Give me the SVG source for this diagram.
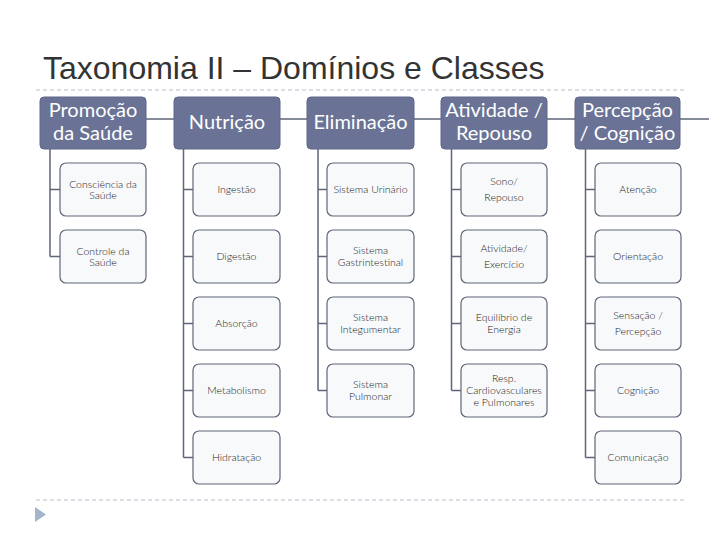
<svg xmlns="http://www.w3.org/2000/svg" width="720" height="540" viewBox="0 0 720 540">
<defs>
<style>
.title{font-family:"Liberation Sans",Arial,sans-serif;font-size:32px;fill:#333333}
.dash{stroke:#b4bfcc;stroke-width:1;stroke-dasharray:4 3;fill:none}
.hdr rect{fill:#6a7396;stroke:#5e6788;stroke-width:1}
.hdr text{font-family:Lato,"Open Sans",sans-serif;font-size:20px;fill:#ffffff;text-anchor:middle}
.cls rect{fill:#f8f9fb;stroke:#5f6678;stroke-width:1.2}
.cls text{font-family:Lato,"Open Sans",sans-serif;font-size:10.5px;font-weight:300;fill:#1a1a1a;text-anchor:middle}
.conn path{stroke:#5f6678;stroke-width:1.5;fill:none}
</style>
</defs>
<rect width="720" height="540" fill="#ffffff"/>
<text class="title" x="43" y="79">Taxonomia II – Domínios e Classes</text>
<line class="dash" x1="36" y1="90" x2="686" y2="90"/>
<line class="dash" x1="36" y1="500" x2="686" y2="500"/>
<polygon points="35,507 46,514.5 35,522" fill="#a3b5cc"/>

<g id="connectors" class="conn">
<path d="M146 119H174M280 119H307M414 119H441M547 119H575M680 119H709"/>
<path d="M50 149V256.5M50 189.5H60M50 256.5H60"/>
<path d="M183.5 149V457.5M183.5 189.5H193M183.5 256.5H193M183.5 323.5H193M183.5 390.5H193M183.5 457.5H193"/>
<path d="M318 149V390.5M318 189.5H327M318 256.5H327M318 323.5H327M318 390.5H327"/>
<path d="M451.5 149V390.5M451.5 189.5H461M451.5 256.5H461M451.5 323.5H461M451.5 390.5H461"/>
<path d="M585.5 149V457.5M585.5 189.5H595M585.5 256.5H595M585.5 323.5H595M585.5 390.5H595M585.5 457.5H595"/>
</g>

<g id="h-promocao" class="hdr"><rect x="40" y="97" width="106" height="52" rx="4"/><text x="93" y="117">Promoção</text><text x="93" y="140">da Saúde</text></g>
<g id="h-nutricao" class="hdr"><rect x="174" y="97" width="106" height="52" rx="4"/><text x="227" y="129">Nutrição</text></g>
<g id="h-eliminacao" class="hdr"><rect x="307" y="97" width="107" height="52" rx="4"/><text x="360.5" y="129">Eliminação</text></g>
<g id="h-atividade" class="hdr"><rect x="441" y="97" width="106" height="52" rx="4"/><text x="494" y="117">Atividade /</text><text x="494" y="140">Repouso</text></g>
<g id="h-percepcao" class="hdr"><rect x="575" y="97" width="105" height="52" rx="4"/><text x="627.5" y="117">Percepção</text><text x="627.5" y="140">/ Cognição</text></g>

<g id="c-consciencia" class="cls"><rect x="60" y="163" width="86" height="53" rx="6"/><text x="103" y="188">Consciência da</text><text x="103" y="199">Saúde</text></g>
<g id="c-controle" class="cls"><rect x="60" y="230" width="86" height="53" rx="6"/><text x="103" y="255">Controle da</text><text x="103" y="266">Saúde</text></g>

<g id="c-ingestao" class="cls"><rect x="193" y="163" width="87" height="53" rx="6"/><text x="236.5" y="193">Ingestão</text></g>
<g id="c-digestao" class="cls"><rect x="193" y="230" width="87" height="53" rx="6"/><text x="236.5" y="260">Digestão</text></g>
<g id="c-absorcao" class="cls"><rect x="193" y="297" width="87" height="53" rx="6"/><text x="236.5" y="327">Absorção</text></g>
<g id="c-metabolismo" class="cls"><rect x="193" y="364" width="87" height="53" rx="6"/><text x="236.5" y="394">Metabolismo</text></g>
<g id="c-hidratacao" class="cls"><rect x="193" y="431" width="87" height="53" rx="6"/><text x="236.5" y="461">Hidratação</text></g>

<g id="c-urinario" class="cls"><rect x="327" y="163" width="87" height="53" rx="6"/><text x="370.5" y="193">Sistema Urinário</text></g>
<g id="c-gastrintestinal" class="cls"><rect x="327" y="230" width="87" height="53" rx="6"/><text x="370.5" y="254">Sistema</text><text x="370.5" y="266">Gastrintestinal</text></g>
<g id="c-integumentar" class="cls"><rect x="327" y="297" width="87" height="53" rx="6"/><text x="370.5" y="321">Sistema</text><text x="370.5" y="333">Integumentar</text></g>
<g id="c-pulmonar" class="cls"><rect x="327" y="364" width="87" height="53" rx="6"/><text x="370.5" y="388">Sistema</text><text x="370.5" y="400">Pulmonar</text></g>

<g id="c-sono" class="cls"><rect x="461" y="163" width="86" height="53" rx="6"/><text x="504" y="185">Sono/</text><text x="504" y="201">Repouso</text></g>
<g id="c-atividade" class="cls"><rect x="461" y="230" width="86" height="53" rx="6"/><text x="504" y="252">Atividade/</text><text x="504" y="268">Exercício</text></g>
<g id="c-equilibrio" class="cls"><rect x="461" y="297" width="86" height="53" rx="6"/><text x="504" y="321">Equilíbrio de</text><text x="504" y="333">Energia</text></g>
<g id="c-resp" class="cls"><rect x="461" y="364" width="86" height="53" rx="6"/><text x="504" y="382">Resp.</text><text x="504" y="394">Cardiovasculares</text><text x="504" y="406">e Pulmonares</text></g>

<g id="c-atencao" class="cls"><rect x="595" y="163" width="86" height="53" rx="6"/><text x="638" y="193">Atenção</text></g>
<g id="c-orientacao" class="cls"><rect x="595" y="230" width="86" height="53" rx="6"/><text x="638" y="260">Orientação</text></g>
<g id="c-sensacao" class="cls"><rect x="595" y="297" width="86" height="53" rx="6"/><text x="638" y="319">Sensação /</text><text x="638" y="335">Percepção</text></g>
<g id="c-cognicao" class="cls"><rect x="595" y="364" width="86" height="53" rx="6"/><text x="638" y="394">Cognição</text></g>
<g id="c-comunicacao" class="cls"><rect x="595" y="431" width="86" height="53" rx="6"/><text x="638" y="461">Comunicação</text></g>
</svg>
